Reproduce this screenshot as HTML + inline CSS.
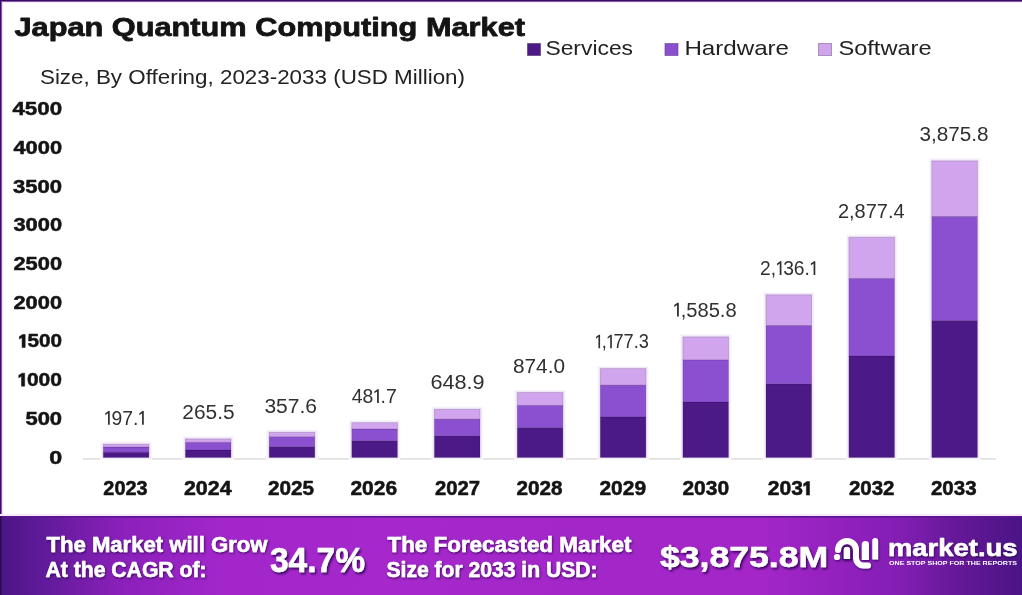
<!DOCTYPE html><html><head><meta charset="utf-8"><style>html,body{margin:0;padding:0;width:1022px;height:595px;overflow:hidden;background:#fff}svg{display:block;will-change:transform}text{font-family:"Liberation Sans",sans-serif}</style></head><body><svg width="1022" height="595" viewBox="0 0 1022 595"><defs><linearGradient id="bg" x1="0" y1="0" x2="1022" y2="0" gradientUnits="userSpaceOnUse"><stop offset="0.0000" stop-color="#4a1684"/><stop offset="0.0391" stop-color="#5e1a98"/><stop offset="0.1174" stop-color="#8a20ba"/><stop offset="0.2153" stop-color="#a226ca"/><stop offset="0.3914" stop-color="#a628cc"/><stop offset="0.5871" stop-color="#a226c8"/><stop offset="0.7436" stop-color="#a426c8"/><stop offset="0.8317" stop-color="#9020bc"/><stop offset="0.8806" stop-color="#821eb4"/><stop offset="0.9393" stop-color="#641896"/><stop offset="1.0000" stop-color="#4a1486"/></linearGradient><filter id="ts" x="-10%" y="-30%" width="130%" height="180%"><feDropShadow dx="0.8" dy="1.2" stdDeviation="0.9" flood-color="#2a0050" flood-opacity="0.8"/></filter><filter id="ts2" x="-10%" y="-30%" width="130%" height="180%"><feDropShadow dx="1.5" dy="2" stdDeviation="1.2" flood-color="#2a0050" flood-opacity="0.85"/></filter></defs><rect width="1022" height="595" fill="#fff"/><rect x="0" y="2" width="1022" height="1" fill="#f4e6fc"/><rect x="2" y="0" width="1" height="516" fill="#f0e2fb"/><rect x="0" y="1" width="1022" height="1" fill="#9468b6"/><rect x="1" y="0" width="1" height="516" fill="#9470c2"/><rect x="0" y="0" width="1022" height="1.1" fill="#3a0a5e"/><rect x="0" y="0" width="1.2" height="516" fill="#3a0a6e"/><text x="14.49" y="36.3" font-size="26.4" font-weight="bold" fill="#141414" stroke="#141414" stroke-width="0.8" stroke-linejoin="round" textLength="510.51" lengthAdjust="spacingAndGlyphs">Japan Quantum Computing Market</text><rect x="527.4" y="43.4" width="13.2" height="12.2" fill="#4b1a87" stroke="#1a0030" stroke-opacity="0.35" stroke-width="0.8"/><text x="545.44" y="55.3" font-size="20.8" font-weight="normal" fill="#222222" textLength="87.58" lengthAdjust="spacingAndGlyphs">Services</text><rect x="664.9" y="43.4" width="13.2" height="12.2" fill="#8a50cf" stroke="#1a0030" stroke-opacity="0.35" stroke-width="0.8"/><text x="684.41" y="55.3" font-size="20.8" font-weight="normal" fill="#222222" textLength="104.64" lengthAdjust="spacingAndGlyphs">Hardware</text><rect x="818.4" y="43.4" width="13.2" height="12.2" fill="#d1a4ee" stroke="#1a0030" stroke-opacity="0.35" stroke-width="0.8"/><text x="838.43" y="55.3" font-size="20.8" font-weight="normal" fill="#222222" textLength="93.12" lengthAdjust="spacingAndGlyphs">Software</text><text x="39.98" y="84.1" font-size="20.8" font-weight="normal" fill="#222222" textLength="425.04" lengthAdjust="spacingAndGlyphs">Size, By Offering, 2023-2033 (USD Million)</text><text x="12.44" y="115.3" font-size="18.5" font-weight="bold" fill="#141414" stroke="#141414" stroke-width="0.5" stroke-linejoin="round" textLength="49.60" lengthAdjust="spacingAndGlyphs">4500</text><text x="13.47" y="153.99" font-size="18.5" font-weight="bold" fill="#141414" stroke="#141414" stroke-width="0.5" stroke-linejoin="round" textLength="48.58" lengthAdjust="spacingAndGlyphs">4000</text><text x="12.97" y="192.68" font-size="18.5" font-weight="bold" fill="#141414" stroke="#141414" stroke-width="0.5" stroke-linejoin="round" textLength="49.06" lengthAdjust="spacingAndGlyphs">3500</text><text x="13.45" y="231.37" font-size="18.5" font-weight="bold" fill="#141414" stroke="#141414" stroke-width="0.5" stroke-linejoin="round" textLength="48.62" lengthAdjust="spacingAndGlyphs">3000</text><text x="13.46" y="270.06" font-size="18.5" font-weight="bold" fill="#141414" stroke="#141414" stroke-width="0.5" stroke-linejoin="round" textLength="48.60" lengthAdjust="spacingAndGlyphs">2500</text><text x="13.46" y="308.75" font-size="18.5" font-weight="bold" fill="#141414" stroke="#141414" stroke-width="0.5" stroke-linejoin="round" textLength="48.60" lengthAdjust="spacingAndGlyphs">2000</text><g transform="translate(18.76,347.44) scale(1.1184,1)"><text x="7.77 18.06 28.35" y="0" font-size="18.5" font-weight="bold" fill="#141414" stroke="#141414" stroke-width="0.5" stroke-linejoin="round">500</text><path d="M2.96 0.00 L5.74 0.00 L5.74 -12.95 L3.52 -12.95 L0.55 -10.91 L0.55 -8.33 L2.96 -9.99 Z" fill="#141414" stroke="#141414" stroke-width="0.5" stroke-linejoin="round"/></g><g transform="translate(18.15,386.13) scale(1.1342,1)"><text x="7.77 18.06 28.35" y="0" font-size="18.5" font-weight="bold" fill="#141414" stroke="#141414" stroke-width="0.5" stroke-linejoin="round">000</text><path d="M2.96 0.00 L5.74 0.00 L5.74 -12.95 L3.52 -12.95 L0.55 -10.91 L0.55 -8.33 L2.96 -9.99 Z" fill="#141414" stroke="#141414" stroke-width="0.5" stroke-linejoin="round"/></g><text x="25.41" y="424.82" font-size="18.5" font-weight="bold" fill="#141414" stroke="#141414" stroke-width="0.5" stroke-linejoin="round" textLength="36.69" lengthAdjust="spacingAndGlyphs">500</text><text x="49.34" y="463.51" font-size="18.5" font-weight="bold" fill="#141414" stroke="#141414" stroke-width="0.5" stroke-linejoin="round" textLength="12.94" lengthAdjust="spacingAndGlyphs">0</text><rect x="83" y="458.4" width="913" height="1.1" fill="#cfcfcf"/><rect x="100.30" y="441.40000000000003" width="51.60" height="18.70" fill="#fbf7fd"/><rect x="101.60" y="442.6" width="49.00" height="15.90" fill="#efe7f6"/><g stroke="#200030" stroke-opacity="0.2" stroke-width="0.8"><rect x="103.30" y="452.2" width="45.6" height="5.30" fill="#4b1a87"/><rect x="103.30" y="447.0" width="45.6" height="5.20" fill="#8a50cf"/><rect x="103.30" y="444.2" width="45.6" height="2.80" fill="#d1a4ee"/></g><g transform="translate(104.33,424.7) scale(0.9921,1)"><text x="7.21 18.06 28.90" y="0" font-size="19.5" font-weight="normal" fill="#303030">97.</text><path d="M3.71 0.00 L5.46 0.00 L5.46 -13.65 L4.09 -13.65 L0.98 -11.41 L0.98 -9.55 L3.71 -11.50 Z" fill="#303030"/><path d="M38.03 0.00 L39.78 0.00 L39.78 -13.65 L38.42 -13.65 L35.30 -11.41 L35.30 -9.55 L38.03 -11.50 Z" fill="#303030"/></g><text x="103.36" y="495.1" font-size="19.3" font-weight="bold" fill="#141414" stroke="#141414" stroke-width="0.5" stroke-linejoin="round" textLength="44.27" lengthAdjust="spacingAndGlyphs">2023</text><rect x="182.40" y="436.1" width="51.60" height="24.00" fill="#fbf7fd"/><rect x="183.70" y="437.3" width="49.00" height="21.20" fill="#efe7f6"/><g stroke="#200030" stroke-opacity="0.2" stroke-width="0.8"><rect x="185.40" y="450.0" width="45.6" height="7.50" fill="#4b1a87"/><rect x="185.40" y="442.3" width="45.6" height="7.70" fill="#8a50cf"/><rect x="185.40" y="438.9" width="45.6" height="3.40" fill="#d1a4ee"/></g><text x="182.37" y="418.6" font-size="19.5" font-weight="normal" fill="#303030" textLength="52.23" lengthAdjust="spacingAndGlyphs">265.5</text><text x="183.95" y="495.1" font-size="19.3" font-weight="bold" fill="#141414" stroke="#141414" stroke-width="0.5" stroke-linejoin="round" textLength="47.61" lengthAdjust="spacingAndGlyphs">2024</text><rect x="266.20" y="429.5" width="51.60" height="30.60" fill="#fbf7fd"/><rect x="267.50" y="430.7" width="49.00" height="27.80" fill="#efe7f6"/><g stroke="#200030" stroke-opacity="0.2" stroke-width="0.8"><rect x="269.20" y="446.6" width="45.6" height="10.90" fill="#4b1a87"/><rect x="269.20" y="436.7" width="45.6" height="9.90" fill="#8a50cf"/><rect x="269.20" y="432.29999999999995" width="45.6" height="4.40" fill="#d1a4ee"/></g><text x="264.43" y="412.5" font-size="19.5" font-weight="normal" fill="#303030" textLength="52.62" lengthAdjust="spacingAndGlyphs">357.6</text><text x="267.95" y="495.1" font-size="19.3" font-weight="bold" fill="#141414" stroke="#141414" stroke-width="0.5" stroke-linejoin="round" textLength="46.07" lengthAdjust="spacingAndGlyphs">2025</text><rect x="348.80" y="419.90000000000003" width="51.60" height="40.20" fill="#fbf7fd"/><rect x="350.10" y="421.1" width="49.00" height="37.40" fill="#efe7f6"/><g stroke="#200030" stroke-opacity="0.2" stroke-width="0.8"><rect x="351.80" y="440.7" width="45.6" height="16.80" fill="#4b1a87"/><rect x="351.80" y="429.0" width="45.6" height="11.70" fill="#8a50cf"/><rect x="351.80" y="422.7" width="45.6" height="6.30" fill="#d1a4ee"/></g><g transform="translate(351.75,402.9) scale(0.9968,1)"><text x="0.00 10.84 28.90 34.32" y="0" font-size="19.5" font-weight="normal" fill="#303030">48.7</text><path d="M25.39 0.00 L27.15 0.00 L27.15 -13.65 L25.78 -13.65 L22.66 -11.41 L22.66 -9.55 L25.39 -11.50 Z" fill="#303030"/></g><text x="350.44" y="495.1" font-size="19.3" font-weight="bold" fill="#141414" stroke="#141414" stroke-width="0.5" stroke-linejoin="round" textLength="46.60" lengthAdjust="spacingAndGlyphs">2026</text><rect x="431.40" y="406.5" width="51.60" height="53.60" fill="#fbf7fd"/><rect x="432.70" y="407.7" width="49.00" height="50.80" fill="#efe7f6"/><g stroke="#200030" stroke-opacity="0.2" stroke-width="0.8"><rect x="434.40" y="435.8" width="45.6" height="21.70" fill="#4b1a87"/><rect x="434.40" y="419.1" width="45.6" height="16.70" fill="#8a50cf"/><rect x="434.40" y="409.29999999999995" width="45.6" height="9.80" fill="#d1a4ee"/></g><text x="430.40" y="388.9" font-size="19.5" font-weight="normal" fill="#303030" textLength="54.18" lengthAdjust="spacingAndGlyphs">648.9</text><text x="434.96" y="495.1" font-size="19.3" font-weight="bold" fill="#141414" stroke="#141414" stroke-width="0.5" stroke-linejoin="round" textLength="45.11" lengthAdjust="spacingAndGlyphs">2027</text><rect x="514.30" y="389.70000000000005" width="51.60" height="70.40" fill="#fbf7fd"/><rect x="515.60" y="390.90000000000003" width="49.00" height="67.60" fill="#efe7f6"/><g stroke="#200030" stroke-opacity="0.2" stroke-width="0.8"><rect x="517.30" y="427.6" width="45.6" height="29.90" fill="#4b1a87"/><rect x="517.30" y="405.3" width="45.6" height="22.30" fill="#8a50cf"/><rect x="517.30" y="392.5" width="45.6" height="12.80" fill="#d1a4ee"/></g><text x="512.95" y="372.5" font-size="19.5" font-weight="normal" fill="#303030" textLength="52.10" lengthAdjust="spacingAndGlyphs">874.0</text><text x="516.46" y="495.1" font-size="19.3" font-weight="bold" fill="#141414" stroke="#141414" stroke-width="0.5" stroke-linejoin="round" textLength="46.11" lengthAdjust="spacingAndGlyphs">2028</text><rect x="597.30" y="365.8" width="51.60" height="94.30" fill="#fbf7fd"/><rect x="598.60" y="367.0" width="49.00" height="91.50" fill="#efe7f6"/><g stroke="#200030" stroke-opacity="0.2" stroke-width="0.8"><rect x="600.30" y="417.0" width="45.6" height="40.50" fill="#4b1a87"/><rect x="600.30" y="385.1" width="45.6" height="31.90" fill="#8a50cf"/><rect x="600.30" y="368.59999999999997" width="45.6" height="16.50" fill="#d1a4ee"/></g><g transform="translate(594.99,348.3) scale(0.9309,1)"><text x="7.21 19.85 30.69 41.54 46.96" y="0" font-size="19.5" font-weight="normal" fill="#303030">,77.3</text><path d="M3.71 0.00 L5.46 0.00 L5.46 -13.65 L4.09 -13.65 L0.98 -11.41 L0.98 -9.55 L3.71 -11.50 Z" fill="#303030"/><path d="M16.34 0.00 L18.09 0.00 L18.09 -13.65 L16.73 -13.65 L13.61 -11.41 L13.61 -9.55 L16.34 -11.50 Z" fill="#303030"/></g><text x="599.46" y="495.1" font-size="19.3" font-weight="bold" fill="#141414" stroke="#141414" stroke-width="0.5" stroke-linejoin="round" textLength="46.59" lengthAdjust="spacingAndGlyphs">2029</text><rect x="679.90" y="334.1" width="51.60" height="126.00" fill="#fbf7fd"/><rect x="681.20" y="335.3" width="49.00" height="123.20" fill="#efe7f6"/><g stroke="#200030" stroke-opacity="0.2" stroke-width="0.8"><rect x="682.90" y="402.0" width="45.6" height="55.50" fill="#4b1a87"/><rect x="682.90" y="359.8" width="45.6" height="42.20" fill="#8a50cf"/><rect x="682.90" y="336.9" width="45.6" height="22.90" fill="#d1a4ee"/></g><g transform="translate(673.19,316.5) scale(1.0334,1)"><text x="7.21 12.63 23.48 34.32 45.17 50.59" y="0" font-size="19.5" font-weight="normal" fill="#303030">,585.8</text><path d="M3.71 0.00 L5.46 0.00 L5.46 -13.65 L4.09 -13.65 L0.98 -11.41 L0.98 -9.55 L3.71 -11.50 Z" fill="#303030"/></g><text x="682.41" y="495.1" font-size="19.3" font-weight="bold" fill="#141414" stroke="#141414" stroke-width="0.5" stroke-linejoin="round" textLength="46.66" lengthAdjust="spacingAndGlyphs">2030</text><rect x="763.00" y="292.0" width="51.60" height="168.10" fill="#fbf7fd"/><rect x="764.30" y="293.2" width="49.00" height="165.30" fill="#efe7f6"/><g stroke="#200030" stroke-opacity="0.2" stroke-width="0.8"><rect x="766.00" y="383.8" width="45.6" height="73.70" fill="#4b1a87"/><rect x="766.00" y="325.4" width="45.6" height="58.40" fill="#8a50cf"/><rect x="766.00" y="294.79999999999995" width="45.6" height="30.60" fill="#d1a4ee"/></g><g transform="translate(760.03,275.0) scale(0.9861,1)"><text x="0.00 10.84 23.48 34.32 45.17" y="0" font-size="19.5" font-weight="normal" fill="#303030">2,36.</text><path d="M19.97 0.00 L21.72 0.00 L21.72 -13.65 L20.36 -13.65 L17.24 -11.41 L17.24 -9.55 L19.97 -11.50 Z" fill="#303030"/><path d="M54.29 0.00 L56.05 0.00 L56.05 -13.65 L54.68 -13.65 L51.56 -11.41 L51.56 -9.55 L54.29 -11.50 Z" fill="#303030"/></g><g transform="translate(767.74,495.1) scale(1.0943,1)"><text x="0.00 10.73 21.47" y="0" font-size="19.3" font-weight="bold" fill="#141414" stroke="#141414" stroke-width="0.5" stroke-linejoin="round">203</text><path d="M35.29 0.00 L38.18 0.00 L38.18 -13.51 L35.87 -13.51 L32.78 -11.39 L32.78 -8.69 L35.29 -10.42 Z" fill="#141414" stroke="#141414" stroke-width="0.5" stroke-linejoin="round"/></g><rect x="845.90" y="234.5" width="51.60" height="225.60" fill="#fbf7fd"/><rect x="847.20" y="235.70000000000002" width="49.00" height="222.80" fill="#efe7f6"/><g stroke="#200030" stroke-opacity="0.2" stroke-width="0.8"><rect x="848.90" y="356.0" width="45.6" height="101.50" fill="#4b1a87"/><rect x="848.90" y="278.4" width="45.6" height="77.60" fill="#8a50cf"/><rect x="848.90" y="237.3" width="45.6" height="41.10" fill="#d1a4ee"/></g><text x="837.93" y="217.5" font-size="19.5" font-weight="normal" fill="#303030" textLength="66.64" lengthAdjust="spacingAndGlyphs">2,877.4</text><text x="848.93" y="495.1" font-size="19.3" font-weight="bold" fill="#141414" stroke="#141414" stroke-width="0.5" stroke-linejoin="round" textLength="45.61" lengthAdjust="spacingAndGlyphs">2032</text><rect x="928.80" y="158.1" width="51.60" height="302.00" fill="#fbf7fd"/><rect x="930.10" y="159.3" width="49.00" height="299.20" fill="#efe7f6"/><g stroke="#200030" stroke-opacity="0.2" stroke-width="0.8"><rect x="931.80" y="320.5" width="45.6" height="137.00" fill="#4b1a87"/><rect x="931.80" y="216.4" width="45.6" height="104.10" fill="#8a50cf"/><rect x="931.80" y="160.9" width="45.6" height="55.50" fill="#d1a4ee"/></g><text x="919.43" y="141.2" font-size="19.5" font-weight="normal" fill="#303030" textLength="69.12" lengthAdjust="spacingAndGlyphs">3,875.8</text><text x="930.94" y="495.1" font-size="19.3" font-weight="bold" fill="#141414" stroke="#141414" stroke-width="0.5" stroke-linejoin="round" textLength="45.63" lengthAdjust="spacingAndGlyphs">2033</text><rect x="0" y="516" width="1022" height="79" fill="url(#bg)"/><rect x="0" y="516" width="1022" height="1.6" fill="#5a168e"/><rect x="0" y="514" width="1022" height="2" fill="#f7e8fc"/><rect x="0" y="516" width="1.5" height="79" fill="#2c0a50"/><g filter="url(#ts)"><text x="46.49" y="551.6" font-size="21.2" font-weight="bold" fill="#fff" stroke="#fff" stroke-width="0.5" stroke-linejoin="round" textLength="221.03" lengthAdjust="spacingAndGlyphs">The Market will Grow</text><text x="45.47" y="576.8" font-size="21.2" font-weight="bold" fill="#fff" stroke="#fff" stroke-width="0.5" stroke-linejoin="round" textLength="161.06" lengthAdjust="spacingAndGlyphs">At the CAGR of:</text><text x="387.49" y="551.7" font-size="21.2" font-weight="bold" fill="#fff" stroke="#fff" stroke-width="0.5" stroke-linejoin="round" textLength="244.01" lengthAdjust="spacingAndGlyphs">The Forecasted Market</text><text x="386.48" y="577.2" font-size="21.2" font-weight="bold" fill="#fff" stroke="#fff" stroke-width="0.5" stroke-linejoin="round" textLength="211.05" lengthAdjust="spacingAndGlyphs">Size for 2033 in USD:</text></g><g filter="url(#ts2)"><text x="269.94" y="572.4" font-size="34.4" font-weight="bold" fill="#fff" stroke="#fff" stroke-width="0.5" stroke-linejoin="round" textLength="95.12" lengthAdjust="spacingAndGlyphs">34.7%</text><text x="659.97" y="567.0" font-size="29.6" font-weight="bold" fill="#fff" stroke="#fff" stroke-width="0.5" stroke-linejoin="round" textLength="168.08" lengthAdjust="spacingAndGlyphs">$3,875.8M</text></g><g filter="url(#ts)"><g fill="none" stroke="#fff" stroke-linecap="round"><path d="M838 550 A9 9 0 0 1 856 550 L856 558 A7.5 7.5 0 0 0 863.5 565.5 L868 565.5" stroke-width="6"/></g><path d="M843 559.5 L843 550 A3.9 3.9 0 0 1 850.8 550 L850.8 559.5 Z" fill="#fff" stroke="#3a0a62" stroke-width="1.2"/><path d="M861.8 560 L861.8 544.5 A3.6 3.6 0 0 1 869 544.5 L869 560 Z" fill="#fff"/><path d="M872.3 559.5 L872.3 541 A2.9 2.9 0 0 1 878.1 541 L878.1 559.5 Z" fill="#fff"/><circle cx="837" cy="557" r="3.1" fill="#fff"/></g><text x="887.97" y="556.4" font-size="23.6" font-weight="bold" fill="#fff" stroke="#fff" stroke-width="0.5" stroke-linejoin="round" textLength="129.56" lengthAdjust="spacingAndGlyphs" filter="url(#ts)">market.us</text><text x="889.00" y="565.0" font-size="6.1" font-weight="bold" fill="#fff" textLength="128.00" lengthAdjust="spacingAndGlyphs">ONE STOP SHOP FOR THE REPORTS</text></svg></body></html>
